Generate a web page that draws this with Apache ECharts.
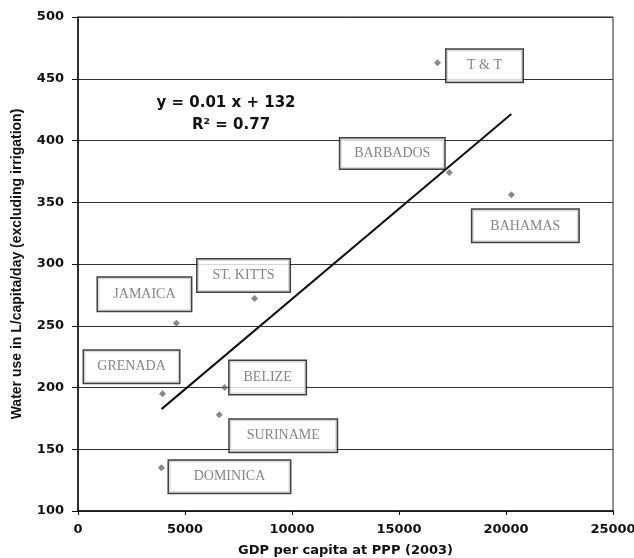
<!DOCTYPE html>
<html>
<head>
<meta charset="utf-8">
<script src="https://cdn.jsdelivr.net/npm/echarts@6/dist/echarts.min.js"></script>
<style>html,body{margin:0;padding:0;background:#fff}#c{width:634px;height:558px}</style>
</head>
<body>
<div id="c"></div>
<script>
// Data
const countries = ['T & T', 'BARBADOS', 'BAHAMAS', 'ST. KITTS', 'JAMAICA', 'GRENADA', 'BELIZE', 'SURINAME', 'DOMINICA'];
const gdp = [16800, 17350, 20250, 8250, 4600, 3950, 6850, 6600, 3900];
const waterUse = [463, 374, 356, 272, 252, 195, 200, 178, 135];
const trendX = [3900, 20250];
const trendY = [182.5, 421.5];
const xTicks = [0, 5000, 10000, 15000, 20000, 25000];
const yTicks = [100, 150, 200, 250, 300, 350, 400, 450, 500];
const equationLines = ['y = 0.01 x + 132', 'R\u00B2 = 0.77'];

// label box styling (offset from the point, box size) - presentation only
const labelStyle = {
  'T & T':     {off: [47, 3],   w: 78,  h: 34},
  'BARBADOS':  {off: [-57, -19], w: 106, h: 32},
  'BAHAMAS':   {off: [14, 31],  w: 108, h: 34},
  'ST. KITTS': {off: [-11, -23], w: 94,  h: 34},
  'JAMAICA':   {off: [-32, -29], w: 95,  h: 35},
  'GRENADA':   {off: [-31, -27], w: 97,  h: 34},
  'BELIZE':    {off: [43, -10], w: 78,  h: 35},
  'SURINAME':  {off: [64, 21],  w: 109, h: 34},
  'DOMINICA':  {off: [68, 9],   w: 123, h: 34}
};

const chart = echarts.init(document.getElementById('c'), null, {renderer: 'canvas'});

const pts = countries.map((name, i) => ({name: name, value: [gdp[i], waterUse[i]]}));
const labelPts = countries.map((name, i) => {
  const s = labelStyle[name];
  return {
    name: name,
    value: [gdp[i], waterUse[i]],
    label: {
      show: true, position: 'inside', offset: s.off, formatter: name,
      width: s.w - 2, height: s.h - 2, lineHeight: s.h - 2, padding: 0,
      align: 'center', verticalAlign: 'middle',
      backgroundColor: '#fff', borderColor: '#111', borderWidth: 1.5,
      textBorderWidth: 0, textShadowBlur: 0,
      color: '#666', fontFamily: 'Liberation Serif', fontSize: 14
    }
  };
});

const tickFont = {fontFamily: 'DejaVu Sans', fontWeight: 'bold', fontSize: 13, color: '#111'};

chart.setOption({
  animation: false,
  backgroundColor: '#fff',
  grid: {left: 78, right: 21, top: 17, bottom: 47, containLabel: false, outerBoundsMode: 'none',
    show: true, borderColor: '#222', borderWidth: 1, backgroundColor: 'transparent'},
  xAxis: {
    type: 'value', min: xTicks[0], max: xTicks[xTicks.length - 1], interval: 5000,
    name: 'GDP per capita at PPP (2003)', nameLocation: 'middle', nameGap: 33,
    nameTextStyle: {fontFamily: 'DejaVu Sans', fontWeight: 'bold', fontSize: 13, color: '#111'},
    axisLine: {show: true, lineStyle: {color: '#111', width: 1.5}},
    axisTick: {show: true, length: 4, lineStyle: {color: '#111'}},
    axisLabel: Object.assign({margin: 12, formatter: v => String(v), showMaxLabel: true}, tickFont),
    splitLine: {show: false}
  },
  yAxis: {
    type: 'value', min: yTicks[0], max: yTicks[yTicks.length - 1], interval: 50,
    name: 'Water use in L/capita/day (excluding irrigation)', nameLocation: 'middle', nameGap: 54,
    nameTextStyle: {fontFamily: 'Liberation Sans Narrow, Liberation Sans', fontWeight: 'bold', fontSize: 14, color: '#111'},
    axisLine: {show: true, lineStyle: {color: '#111', width: 1.5}},
    axisTick: {show: true, length: 6, lineStyle: {color: '#111'}},
    axisLabel: Object.assign({margin: 14, formatter: v => String(v)}, tickFont),
    splitLine: {show: true, lineStyle: {color: '#333', width: 1.2}}
  },
  graphic: [
    {type: 'text', x: 226, y: 103, style: {text: equationLines[0], font: 'bold 15px "DejaVu Sans"', fill: '#111', align: 'center', verticalAlign: 'middle'}},
    {type: 'text', x: 231, y: 125, style: {text: equationLines[1], font: 'bold 15px "DejaVu Sans"', fill: '#111', align: 'center', verticalAlign: 'middle'}}
  ],
  series: [
    {
      type: 'line', data: trendX.map((x, i) => [x, trendY[i]]), symbol: 'none',
      lineStyle: {color: '#111', width: 2}, z: 3, silent: true
    },
    {
      type: 'scatter', data: pts, symbol: 'diamond', symbolSize: 7,
      itemStyle: {color: '#6a6a6a'}, z: 4
    },
    {
      type: 'scatter', data: labelPts, symbolSize: 0, z: 5, silent: true
    }
  ]
});
</script>
</body>
</html>
